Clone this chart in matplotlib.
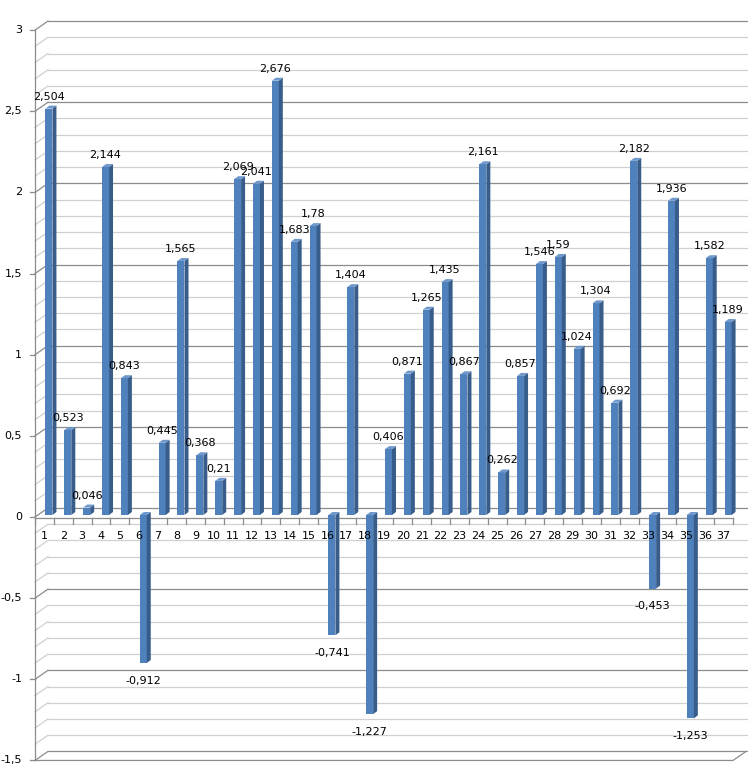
import matplotlib.pyplot as plt
from matplotlib.patches import Polygon

categories = [str(i) for i in range(1, 38)]
values = [2.504, 0.523, 0.046, 2.144, 0.843, -0.912, 0.445, 1.565, 0.368, 0.21,
          2.069, 2.041, 2.676, 1.683, 1.78, -0.741, 1.404, -1.227, 0.406, 0.871,
          1.265, 1.435, 0.867, 2.161, 0.262, 0.857, 1.546, 1.59, 1.024, 1.304,
          0.692, 2.182, -0.453, 1.936, -1.253, 1.582, 1.189]
y_ticks = [3, 2.5, 2, 1.5, 1, 0.5, 0, -0.5, -1, -1.5]
y_ticklabels = ['3', '2,5', '2', '1,5', '1', '0,5', '0', '-0,5', '-1', '-1,5']

# pixel scale of the original chart
PX_X = 18.865   # px per category
PX_Y = 162.3    # px per unit

FRONT = '#4f81bd'
SIDE = '#385d8a'
TOP = '#6f98cc'
GRID_MINOR = '#d0d0d0'
GRID_MAJOR = '#8c8c8c'

fig = plt.figure(figsize=(7.48, 7.80), dpi=100)
ax = fig.add_axes([0, 0, 1, 1])
ax.set_xlim(0.5 - 35 / PX_X, 0.5 + 713 / PX_X)
ax.set_ylim(-263 / PX_Y, 517 / PX_Y)
ax.axis('off')

x_left = 0.5
x_right = len(categories) + 0.5
wall_dx = 13 / PX_X
wall_dy = 9 / PX_Y
x_end = ax.get_xlim()[1]

# back wall + side wall grid, every 0.1
for k in range(-15, 31):
    v = k / 10.0
    col = GRID_MAJOR if k % 5 == 0 else GRID_MINOR
    ax.plot([x_left, x_left + wall_dx], [v, v + wall_dy], color=col, lw=0.9, zorder=1)
    ax.plot([x_left + wall_dx, x_end], [v + wall_dy, v + wall_dy], color=col, lw=0.9, zorder=1)

# floor front edge
ax.plot([x_left, x_right, x_right + wall_dx], [-1.5, -1.5, -1.5 + wall_dy],
        color=GRID_MAJOR, lw=0.9, zorder=1)

# value axis
ax.plot([x_left, x_left], [y_ticks[-1], y_ticks[0]], color=GRID_MAJOR, lw=0.9, zorder=2)
for t, lab in zip(y_ticks, y_ticklabels):
    ax.plot([x_left - 5 / PX_X, x_left], [t, t], color=GRID_MAJOR, lw=0.9, zorder=2)
    ax.text(x_left - 13 / PX_X, t, lab, ha='right', va='center', fontsize=8, color='black')

# category axis
y_axis = -1 / PX_Y
ax.plot([x_left, x_right], [y_axis, y_axis], color=GRID_MAJOR, lw=0.9, zorder=2)
for i in range(len(categories) + 1):
    xt = i + 0.5
    ax.plot([xt, xt], [y_axis, y_axis - 6 / PX_Y], color=GRID_MAJOR, lw=0.9, zorder=2)
for i, lab in enumerate(categories):
    ax.text(i + 1, -19 / PX_Y, lab, ha='center', va='center', fontsize=8,
            color='black', zorder=6)

# 3d columns
base = 2 / PX_Y
off = 1 / PX_X
width = 7 / PX_X
dx = 4 / PX_X
dy = 3 / PX_Y
xs = [i + 1 + off for i in range(len(values))]
ax.bar(xs, values, width=width, bottom=base, align='edge', color=FRONT,
       linewidth=0, zorder=3)
for x0, v in zip(xs, values):
    top = base + max(v, 0)
    low = base + min(v, 0)
    x1 = x0 + width
    ax.add_patch(Polygon([(x1, low), (x1 + dx, low + dy), (x1 + dx, top + dy), (x1, top)],
                         closed=True, fc=SIDE, ec='none', zorder=3))
    ax.add_patch(Polygon([(x0, top), (x0 + dx, top + dy), (x1 + dx, top + dy), (x1, top)],
                         closed=True, fc=TOP, ec='none', zorder=3))
    lab = str(v).replace('.', ',')
    xc = x0 + width / 2
    if v >= 0:
        ax.annotate(lab, (xc, base + v), xytext=(0, 6.5), textcoords='offset points',
                    ha='center', va='baseline', fontsize=8, zorder=5)
    else:
        ax.annotate(lab, (xc, base + v), xytext=(0, -15), textcoords='offset points',
                    ha='center', va='baseline', fontsize=8, zorder=5)

fig.savefig('out.png', dpi=100)
